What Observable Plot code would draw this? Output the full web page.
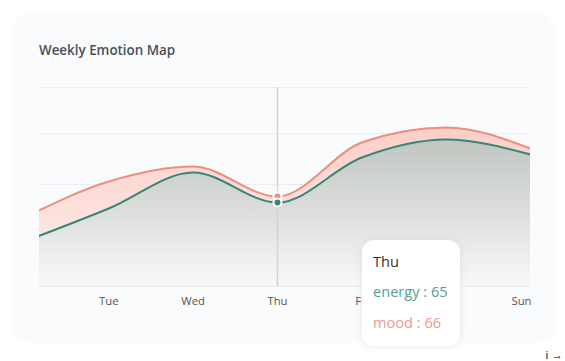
<!DOCTYPE html>
<html>
<head>
<meta charset="utf-8">
<script src="https://cdn.jsdelivr.net/npm/d3@7"></script>
<script src="https://cdn.jsdelivr.net/npm/@observablehq/plot@0.6"></script>
<style>
  html, body { margin: 0; padding: 0; background: #ffffff; overflow: hidden; }
  #wrap { position: relative; width: 565px; height: 361px; overflow: hidden; font-family: "Open Sans", "Noto Sans", sans-serif; }
  #card { position: absolute; left: 14px; top: 14px; width: 539px; height: 326px; border-radius: 18px; background: #fafbfc; box-shadow: 0 1px 10px rgba(30,40,60,0.035); }
  #title { position: absolute; left: 39px; top: 41px; font-size: 13.4px; font-weight: 600; color: #4a4f5b; white-space: nowrap; }
  #chart { position: absolute; left: 0; top: 0; width: 565px; height: 361px; overflow: hidden; }
  #tip { position: absolute; left: 362px; top: 240px; width: 98px; height: 106px; background: #ffffff; border-radius: 12px; box-shadow: 0 1px 8px rgba(0,0,0,0.08); }
  #tip div { position: absolute; left: 11px; font-size: 14.6px; white-space: nowrap; }
</style>
</head>
<body>
<div id="wrap">
  <div id="card"></div>
  <div id="title">Weekly Emotion Map</div>
  <div id="chart"></div>
  <div id="tip">
    <div id="tipDay" style="top:11px;color:#333;">Thu</div>
    <div id="tipE" style="top:41px;color:#55a08f;">energy : 65</div>
    <div id="tipM" style="top:72px;color:#f09a8b;">mood : 66</div>
  </div>
</div>
<script>
const days = ["Mon", "Tue", "Wed", "Thu", "Fri", "Sat", "Sun"];
const energy = [58.5, 64, 70, 65, 72.5, 75.5, 73];
const mood = [62.5, 68.5, 71, 66, 75, 77.5, 74];
const gridValues = [59.5, 68, 76.5, 84.17];
const yMin = 51;
const activeIndex = 3;
const shownTicks = [1, 2, 3, 4];
const lastTick = [6];

const rows = days.map((d, i) => ({ i, day: d, energy: energy[i], mood: mood[i] }));

const defs = () => {
  const ns = "http://www.w3.org/2000/svg";
  const el = document.createElementNS(ns, "defs");
  el.innerHTML =
    '<linearGradient id="moodGrad" gradientUnits="userSpaceOnUse" x1="0" y1="120" x2="0" y2="286">' +
    '<stop offset="0" stop-color="#fbcdc6"/><stop offset="1" stop-color="#fdf1ef"/></linearGradient>' +
    '<linearGradient id="energyGrad" gradientUnits="userSpaceOnUse" x1="0" y1="132" x2="0" y2="286">' +
    '<stop offset="0" stop-color="#bec3be"/><stop offset="1" stop-color="#f8f8f8"/></linearGradient>';
  return el;
};

const chart = Plot.plot({
  width: 565,
  height: 361,
  marginLeft: 39,
  marginRight: 35,
  marginTop: 87,
  marginBottom: 75,
  x: { type: "linear", domain: [0.178, 6], axis: null },
  y: { domain: [yMin, 84.17], axis: null },
  style: { background: "transparent", fontFamily: "'Open Sans', 'Noto Sans', sans-serif" },
  marks: [
    defs,
    Plot.ruleY(gridValues, { stroke: "#eceef1", strokeWidth: 1 }),
    Plot.areaY(rows, { x: "i", y1: yMin, y2: "mood", fill: "url(#moodGrad)", curve: "monotone-x", clip: true }),
    Plot.areaY(rows, { x: "i", y1: yMin, y2: "energy", fill: "url(#energyGrad)", curve: "monotone-x", clip: true }),
    Plot.ruleY([yMin], { stroke: "#e6e8ea", strokeWidth: 1 }),
    Plot.lineY(rows, { x: "i", y: "mood", stroke: "#ee8e7f", strokeWidth: 2, curve: "monotone-x", clip: true }),
    Plot.lineY(rows, { x: "i", y: "energy", stroke: "#3a8576", strokeWidth: 2, curve: "monotone-x", clip: true }),
    Plot.ruleX([activeIndex], { stroke: "#d2d3d5", strokeWidth: 1.5 }),
    Plot.dot([rows[activeIndex]], { x: "i", y: "mood", r: 4, fill: "#ee8e7f", stroke: "#ffffff", strokeWidth: 2 }),
    Plot.dot([rows[activeIndex]], { x: "i", y: "energy", r: 4, fill: "#3a8576", stroke: "#ffffff", strokeWidth: 2 }),
    Plot.axisX({ ticks: shownTicks, tickFormat: (i) => days[i], tickSize: 0, tickPadding: 10, fontSize: 11.3, fill: "#555" }),
    Plot.axisX({ ticks: lastTick, tickFormat: (i) => days[i], tickSize: 0, tickPadding: 10, fontSize: 11.3, fill: "#555", textAnchor: "end", dx: 1 })
  ]
});
document.getElementById("chart").appendChild(chart);
</script>
</body>
</html>
